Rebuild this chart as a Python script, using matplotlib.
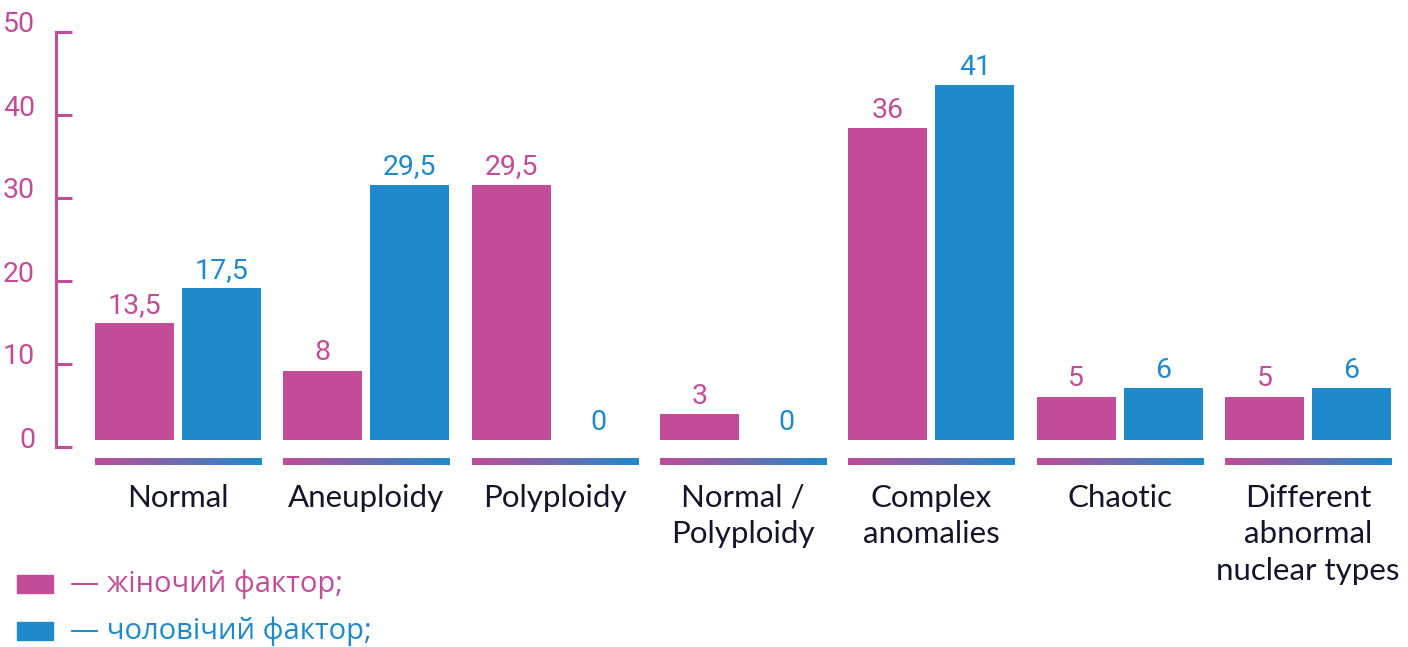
import numpy as np
import matplotlib
matplotlib.use("Agg")
import matplotlib.pyplot as plt
from matplotlib.patches import Rectangle
from matplotlib.colors import LinearSegmentedColormap
from matplotlib.transforms import ScaledTranslation

categories = ["Normal", "Aneuploidy", "Polyploidy", "Normal /\nPolyploidy",
              "Complex\nanomalies", "Chaotic", "Different\nabnormal\nnuclear types"]
female = [13.5, 8, 29.5, 3, 36, 5, 5]
male = [17.5, 29.5, 0, 0, 41, 6, 6]
ruler_ticks = [0, 10, 20, 30, 40, 50]
legend_labels = ["— жіночий фактор;", "— чоловічий фактор;"]

PINK = "#C24C97"
BLUE = "#1E8ACB"
DARK = "#15152A"
W, H, DPI = 1408, 647, 100

fig = plt.figure(figsize=(W / DPI, H / DPI), dpi=DPI)

# main plotting area: category spacing ~188 px, value scale ~8.66 px per unit
spacing = 188.33
x0 = -178 / spacing
ax = fig.add_axes([0, (H - 440) / H, 1, 433 / H])
ax.set_xlim(x0, x0 + W / spacing)
ax.set_ylim(0, 50)
ax.axis("off")

x = np.arange(len(categories))
bw = 79 / spacing
off = 43.5 / spacing
ax.bar(x - off, female, width=bw, color=PINK)
ax.bar(x + off, male, width=bw, color=BLUE)

def fmt(v):
    return f"{v:g}".replace(".", ",")

num_font = ["Roboto", "DejaVu Sans"]
for xs, vals, col in [(x - off, female, PINK), (x + off, male, BLUE)]:
    for xi, v in zip(xs, vals):
        ax.annotate(fmt(v), (xi, v), xytext=(0, 7.5), textcoords="offset points",
                    ha="center", va="baseline", color=col, fontsize=20.5,
                    family=num_font)

# gradient strips under each group
grad = LinearSegmentedColormap.from_list("pb", [PINK, BLUE])
strip = np.linspace(0, 1, 256).reshape(1, -1)
ytop = (440 - 458) / 8.66
ybot = (440 - 465) / 8.66
for xi in x:
    ax.imshow(strip, cmap=grad, aspect="auto", clip_on=False,
              extent=(xi - 83 / spacing, xi + 84 / spacing, ybot, ytop))
ax.set_xlim(x0, x0 + W / spacing)
ax.set_ylim(0, 50)

# category labels
for xi, lab in zip(x, categories):
    ax.annotate(lab, (xi, H - 484), xycoords=("data", "figure pixels"),
                ha="center", va="top", color=DARK, fontsize=22.5,
                family=["Lato", "DejaVu Sans"], linespacing=1.36,
                multialignment="center", annotation_clip=False)

# value ruler on the left
rax = fig.add_axes([56 / W, (H - 447) / H, 1 / W, 415 / H])
rax.set_ylim(0, 50)
rax.set_xticks([])
for side in ["top", "right", "bottom"]:
    rax.spines[side].set_visible(False)
rax.spines["left"].set_color(PINK)
rax.spines["left"].set_linewidth(2.2)
rax.set_yticks(ruler_ticks)
rax.set_yticklabels([str(t) for t in ruler_ticks])
rax.tick_params(axis="y", direction="in", length=11.5, width=2.2, color=PINK,
                pad=15, labelcolor=PINK, labelsize=20.5)
shift = ScaledTranslation(0, 10 / DPI, fig.dpi_scale_trans)
for lab in rax.get_yticklabels():
    lab.set_family(num_font)
    lab.set_transform(lab.get_transform() + shift)
rax.patch.set_visible(False)

# legend
for (sq_b, txt_y), col, lab in zip([(54, 63), (7, 16)], [PINK, BLUE], legend_labels):
    fig.patches.append(Rectangle((17 / W, sq_b / H), 36 / W, 18 / H,
                                 transform=fig.transFigure, color=col))
    fig.text(70 / W, txt_y / H, lab, color=col, fontsize=21,
             family=["Open Sans", "DejaVu Sans"], ha="left", va="center")

fig.savefig("out.png", dpi=DPI)
